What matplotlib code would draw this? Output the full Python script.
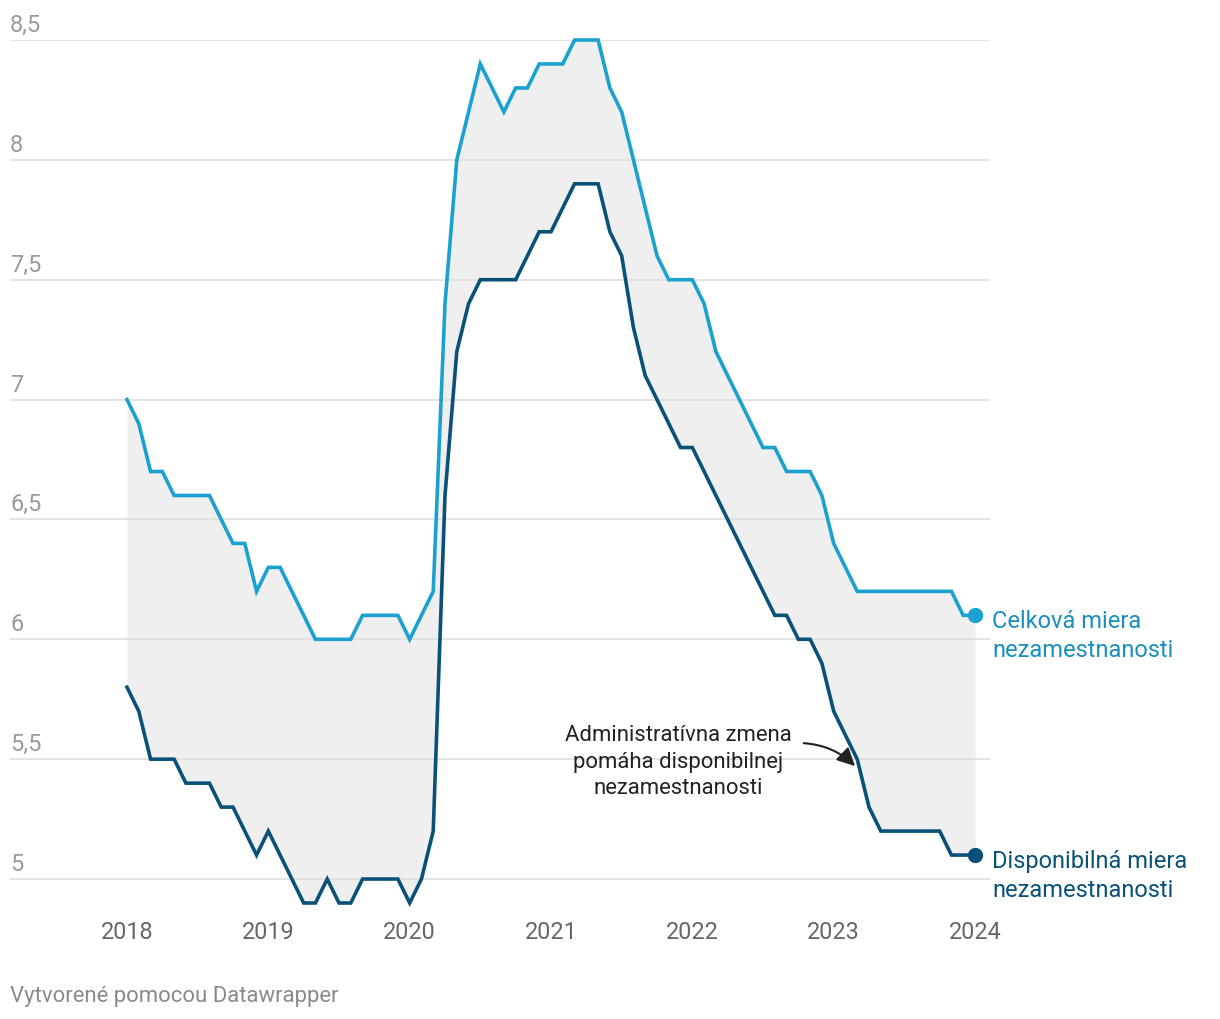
import numpy as np
import matplotlib
matplotlib.use("Agg")
import matplotlib.pyplot as plt
from matplotlib.patches import FancyArrowPatch

plt.rcParams['font.family'] = ['Roboto', 'DejaVu Sans']

# ---- data (monthly, Jan 2018 - Jan 2024) ----
start_year = 2018
celkova = [
    7.0, 6.9, 6.7, 6.7, 6.6, 6.6, 6.6, 6.6, 6.5, 6.4, 6.4, 6.2,   # 2018
    6.3, 6.3, 6.2, 6.1, 6.0, 6.0, 6.0, 6.0, 6.1, 6.1, 6.1, 6.1,   # 2019
    6.0, 6.1, 6.2, 7.4, 8.0, 8.2, 8.4, 8.3, 8.2, 8.3, 8.3, 8.4,   # 2020
    8.4, 8.4, 8.5, 8.5, 8.5, 8.3, 8.2, 8.0, 7.8, 7.6, 7.5, 7.5,   # 2021
    7.5, 7.4, 7.2, 7.1, 7.0, 6.9, 6.8, 6.8, 6.7, 6.7, 6.7, 6.6,   # 2022
    6.4, 6.3, 6.2, 6.2, 6.2, 6.2, 6.2, 6.2, 6.2, 6.2, 6.2, 6.1,   # 2023
    6.1,                                                          # 2024
]
disponibilna = [
    5.8, 5.7, 5.5, 5.5, 5.5, 5.4, 5.4, 5.4, 5.3, 5.3, 5.2, 5.1,   # 2018
    5.2, 5.1, 5.0, 4.9, 4.9, 5.0, 4.9, 4.9, 5.0, 5.0, 5.0, 5.0,   # 2019
    4.9, 5.0, 5.2, 6.6, 7.2, 7.4, 7.5, 7.5, 7.5, 7.5, 7.6, 7.7,   # 2020
    7.7, 7.8, 7.9, 7.9, 7.9, 7.7, 7.6, 7.3, 7.1, 7.0, 6.9, 6.8,   # 2021
    6.8, 6.7, 6.6, 6.5, 6.4, 6.3, 6.2, 6.1, 6.1, 6.0, 6.0, 5.9,   # 2022
    5.7, 5.6, 5.5, 5.3, 5.2, 5.2, 5.2, 5.2, 5.2, 5.2, 5.1, 5.1,   # 2023
    5.1,                                                          # 2024
]
x_ticks = [2018, 2019, 2020, 2021, 2022, 2023, 2024]
y_ticks = [5.0, 5.5, 6.0, 6.5, 7.0, 7.5, 8.0, 8.5]
y_labels = ["5", "5,5", "6", "6,5", "7", "7,5", "8", "8,5"]
label_celkova = "Celková miera\nnezamestnanosti"
label_disp = "Disponibilná miera\nnezamestnanosti"
annotation_text = "Administratívna zmena\npomáha disponibilnej\nnezamestnanosti"
footer = "Vytvorené pomocou Datawrapper"

t = start_year + np.arange(len(celkova)) / 12.0

# ---- colours ----
c_light = "#1aa1cf"
c_dark = "#0a5179"
c_light_txt = "#1a8fbf"
c_dark_txt = "#0a5179"

W, H = 1220, 1020
fig = plt.figure(figsize=(W / 100, H / 100), dpi=100)
fig.patch.set_facecolor("white")

# axes in pixel layout
left_px, right_px, top_px, bot_px = 10, 990, 41, 904
ax = fig.add_axes([left_px / W, 1 - bot_px / H, (right_px - left_px) / W, (bot_px - top_px) / H])
px_per_year = (975 - 127) / 6.0
ax.set_xlim(2018 - (127 - left_px) / px_per_year, 2024 + (right_px - 975) / px_per_year)
ax.set_ylim(4.9, 8.5)

for s in ax.spines.values():
    s.set_visible(False)
ax.set_facecolor("none")

# gridlines
for v in y_ticks:
    ax.axhline(v, color="#e0e0e0", lw=1.3, zorder=2)

# fill between
ax.fill_between(t, disponibilna, celkova, color="#efefef", lw=0, zorder=1)

ax.plot(t, celkova, color=c_light, lw=2.6, zorder=3, clip_on=False, solid_joinstyle="miter")
ax.plot(t, disponibilna, color=c_dark, lw=2.6, zorder=3, clip_on=False, solid_joinstyle="miter")
ax.plot([t[-1]], [celkova[-1]], "o", color=c_light, ms=10, zorder=4, clip_on=False)
ax.plot([t[-1]], [disponibilna[-1]], "o", color=c_dark, ms=10, zorder=4, clip_on=False)

# x ticks
ax.set_xticks(x_ticks)
ax.set_xticklabels([str(x) for x in x_ticks])
ax.tick_params(axis="x", length=0, pad=12.5, labelsize=16.8, labelcolor="#666666")
ax.set_yticks([])

# y labels above gridlines
for v, lab in zip(y_ticks, y_labels):
    ax.annotate(lab, xy=(0, v), xycoords=("axes fraction", "data"),
                xytext=(0, 4), textcoords="offset pixels",
                ha="left", va="bottom", fontsize=17, color="#9a9a9a")

# series labels
ax.annotate(label_celkova, xy=(t[-1], celkova[-1]), xytext=(17, -20),
            textcoords="offset pixels", ha="left", va="center",
            fontsize=17, color=c_light_txt, linespacing=1.35, annotation_clip=False)
ax.annotate(label_disp, xy=(t[-1], disponibilna[-1]), xytext=(17, -20),
            textcoords="offset pixels", ha="left", va="center",
            fontsize=17, color=c_dark_txt, linespacing=1.35, annotation_clip=False)

# annotation
def px2data(xp, yp):
    return (2018 + (xp - 127) / px_per_year, 8.5 - (yp - 41) / ((880 - 41) / 3.5))

tx, ty = px2data(678, 762)
ax.text(tx, ty, annotation_text, ha="center", va="center", multialignment="center",
        fontsize=15.9, color="#222222", linespacing=1.34, zorder=5)
a0 = px2data(801, 744)
a1 = px2data(857, 769)
arrow = FancyArrowPatch(a0, a1, arrowstyle="-|>", connectionstyle="arc3,rad=-0.2",
                        mutation_scale=27, color="#222222", lw=1.5, zorder=5)
ax.add_patch(arrow)

fig.text(10 / W, 1 - 997 / H, footer, ha="left", va="center", fontsize=15.9, color="#8a8a8a")

fig.savefig("out.png", dpi=100)
